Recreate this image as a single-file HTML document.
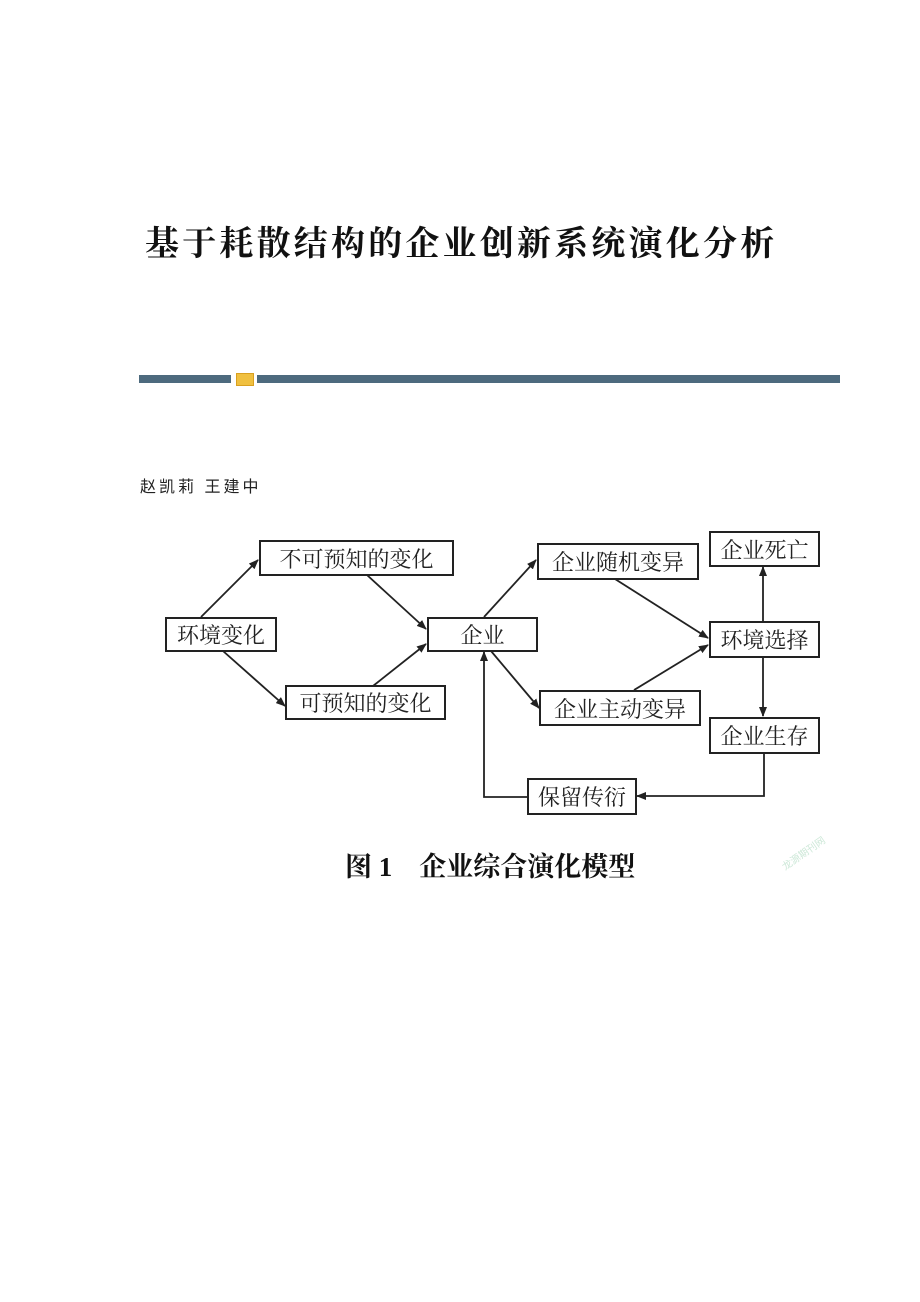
<!DOCTYPE html>
<html><head><meta charset="utf-8">
<style>
body{margin:0;background:#fff;}
.p{position:relative;width:920px;height:1302px;overflow:hidden;font-family:"Liberation Serif","Noto Serif CJK SC",serif;}
.t{position:absolute;left:145px;top:216px;font-size:34px;letter-spacing:3.2px;white-space:nowrap;color:#111;font-weight:bold;font-family:"Liberation Serif","Noto Serif CJK SC",serif;}
.bar{position:absolute;top:375px;height:8px;background:#4d6a7e;}
.au{position:absolute;left:140px;top:473px;font-size:16px;color:#222;font-family:"Liberation Sans","Noto Sans CJK SC",sans-serif;letter-spacing:3px;}
.b{position:absolute;border:2px solid #222;box-sizing:border-box;font-size:22px;display:flex;align-items:center;justify-content:center;color:#222;background:#fff;white-space:nowrap;}
.cap{position:absolute;left:345px;top:845px;font-size:27px;color:#111;white-space:nowrap;font-weight:bold;}
</style></head><body><div class="p">
<div class="t">基于耗散结构的企业创新系统演化分析</div>
<div class="bar" style="left:139px;width:92px"></div>
<div style="position:absolute;left:236px;top:373px;width:16px;height:11px;background:#f0c040;border:1px solid #d9a020;"></div>
<div class="bar" style="left:257px;width:583px"></div>
<div class="au">赵凯莉 王建中</div>
<svg style="position:absolute;left:0;top:0" width="920" height="1302">
<defs><marker id="a" markerWidth="10" markerHeight="8" refX="9" refY="4" orient="auto" markerUnits="userSpaceOnUse"><path d="M0,0L10,4L0,8z" fill="#222"/></marker></defs>
<g stroke="#222" stroke-width="1.8" fill="none" marker-end="url(#a)">
<line x1="201" y1="617" x2="258" y2="560"/>
<line x1="223" y1="651" x2="285" y2="706"/>
<line x1="367" y1="575" x2="426" y2="629"/>
<line x1="373" y1="686" x2="426" y2="644"/>
<line x1="484" y1="617" x2="536" y2="560"/>
<line x1="491" y1="651" x2="539" y2="708"/>
<line x1="615" y1="579" x2="708" y2="638"/>
<line x1="634" y1="690" x2="708" y2="645"/>
<line x1="763" y1="621" x2="763" y2="567"/>
<line x1="763" y1="657" x2="763" y2="716"/>
<polyline points="764,753 764,796 637,796"/>
<polyline points="527,797 484,797 484,652"/>
</g>
</svg>
<div class="b" style="left:259px;top:540px;width:195px;height:36px">不可预知的变化</div>
<div class="b" style="left:165px;top:617px;width:112px;height:35px">环境变化</div>
<div class="b" style="left:285px;top:685px;width:161px;height:35px">可预知的变化</div>
<div class="b" style="left:427px;top:617px;width:111px;height:35px">企业</div>
<div class="b" style="left:537px;top:543px;width:162px;height:37px">企业随机变异</div>
<div class="b" style="left:539px;top:690px;width:162px;height:36px">企业主动变异</div>
<div class="b" style="left:709px;top:531px;width:111px;height:36px">企业死亡</div>
<div class="b" style="left:709px;top:621px;width:111px;height:37px">环境选择</div>
<div class="b" style="left:709px;top:717px;width:111px;height:37px">企业生存</div>
<div class="b" style="left:527px;top:778px;width:110px;height:37px">保留传衍</div>
<div class="cap">图 1&nbsp;&nbsp;&nbsp;&nbsp;企业综合演化模型</div>
<div style="position:absolute;left:778px;top:845px;font-size:10px;color:#cde8d8;transform:rotate(-35deg);font-family:'Noto Sans CJK SC',sans-serif">龙源期刊网</div>
</div></body></html>
